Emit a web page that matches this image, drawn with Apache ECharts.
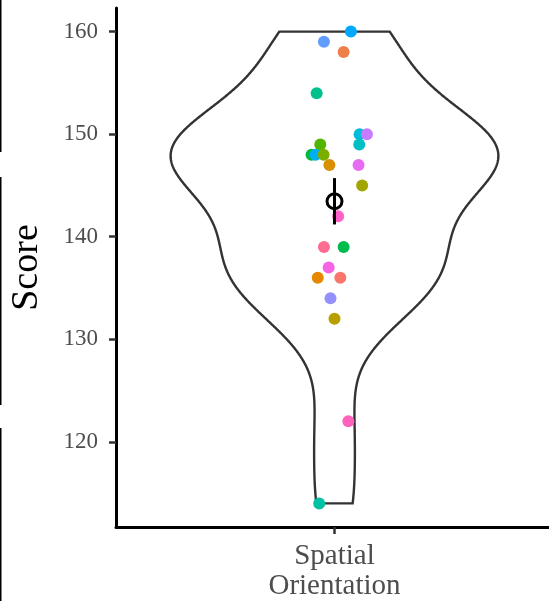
<!DOCTYPE html>
<html>
<head>
<meta charset="utf-8">
<script src="https://cdn.jsdelivr.net/npm/echarts@6/dist/echarts.min.js"></script>
<style>
  html, body { margin: 0; padding: 0; background: #fff; }
  #main { width: 549px; height: 601px; }
</style>
</head>
<body>
<div id="main"></div>
<script>
// scores, one per participant
const scores = [160, 159, 158, 154, 150, 150, 149, 149, 148, 148, 148, 147, 147, 145,
                142, 139, 139, 137, 136, 136, 134, 132, 122, 114];
// horizontal jitter of each point (category units)
const jitter = [0.045, -0.029, 0.025, -0.049, 0.069, 0.089, 0.068, -0.039, -0.063, -0.052, -0.030, -0.014, 0.066, 0.076,
                0.010, -0.029, 0.025, -0.016, -0.046, 0.016, -0.011, 0.000, 0.038, -0.042];
const pointColors = ['#00A9FF', '#619CFF', '#EF7F49', '#00C08B', '#00BCD8', '#C77CFF', '#00BFC4', '#53B400',
                     '#00BA38', '#00B0F6', '#7CAE00', '#D89000', '#E76BF3', '#A3A500', '#FF61C9', '#FF6C91',
                     '#00BB4E', '#F564E3', '#E58700', '#F8766D', '#9590FF', '#B79F00', '#FF62BC', '#00C1A3'];
const category = 'Spatial\nOrientation';
const yTicks = [120, 130, 140, 150, 160];

// summary stats (mean +/- se)
const n = scores.length;
const mean = scores.reduce((a, b) => a + b, 0) / n;
const sd = Math.sqrt(scores.reduce((a, b) => a + (b - mean) * (b - mean), 0) / (n - 1));
const se = sd / Math.sqrt(n);

// gaussian kde like geom_violin (bw.nrd0, trimmed)
const sorted = scores.slice().sort((a, b) => a - b);
const quant = p => {
    const h = (n - 1) * p, lo = Math.floor(h);
    return sorted[lo] + (h - lo) * ((sorted[lo + 1] ?? sorted[lo]) - sorted[lo]);
};
const bw = 0.9 * Math.min(sd, (quant(0.75) - quant(0.25)) / 1.34) * Math.pow(n, -0.2);
const lo = sorted[0], hi = sorted[n - 1];
const dens = [];
for (let i = 0; i < 512; i++) {
    const y = lo + (hi - lo) * i / 511;
    let d = 0;
    scores.forEach(s => { const z = (y - s) / bw; d += Math.exp(-0.5 * z * z); });
    dens.push([y, d]);
}
const maxD = Math.max(...dens.map(d => d[1]));

var myChart = echarts.init(document.getElementById('main'));

const serif = 'Liberation Serif';

const option = {
    animation: false,
    backgroundColor: '#fff',
    grid: { left: 116, right: -4, top: 8, bottom: 74, outerBoundsMode: 'none' },
    xAxis: {
        type: 'value',
        min: 0.4,
        max: 1.6,
        splitLine: { show: false },
        axisLine: { lineStyle: { color: '#000', width: 3 } },
        axisTick: { customValues: [1], length: 7, lineStyle: { color: '#333', width: 2.5 } },
        axisLabel: {
            customValues: [1],
            formatter: () => category,
            color: '#4D4D4D',
            fontFamily: serif,
            fontSize: 29,
            lineHeight: 30,
            margin: 14
        }
    },
    yAxis: {
        type: 'value',
        min: 111.7,
        max: 162.3,
        name: 'Score',
        nameLocation: 'middle',
        nameGap: 70,
        nameTextStyle: { color: '#000', fontFamily: serif, fontSize: 38 },
        splitLine: { show: false },
        axisLine: { show: true, lineStyle: { color: '#000', width: 3 } },
        axisTick: { customValues: yTicks, length: 7, lineStyle: { color: '#333', width: 2.5 } },
        axisLabel: {
            customValues: yTicks,
            color: '#4D4D4D',
            fontFamily: serif,
            fontSize: 23,
            margin: 18
        }
    },
    graphic: [
        { type: 'line', shape: { x1: 0.5, y1: 0, x2: 0.5, y2: 152 }, style: { stroke: '#000', lineWidth: 2 } },
        { type: 'line', shape: { x1: 0.5, y1: 177, x2: 0.5, y2: 405 }, style: { stroke: '#000', lineWidth: 2 } },
        { type: 'line', shape: { x1: 0.5, y1: 428, x2: 0.5, y2: 601 }, style: { stroke: '#000', lineWidth: 2 } }
    ],
    series: [
        {
            name: 'violin',
            type: 'custom',
            data: [[1]],
            silent: true,
            renderItem: (params, api) => {
                const left = dens.map(d => api.coord([1 - 0.45 * d[1] / maxD, d[0]]));
                const right = dens.map(d => api.coord([1 + 0.45 * d[1] / maxD, d[0]])).reverse();
                return {
                    type: 'polygon',
                    shape: { points: left.concat(right) },
                    style: { fill: 'none', stroke: '#333', lineWidth: 2.4 }
                };
            }
        },
        {
            name: 'points',
            type: 'scatter',
            symbolSize: 12,
            data: scores.map((s, i) => [1 + jitter[i], s]),
            itemStyle: { opacity: 1, color: p => pointColors[p.dataIndex] }
        },
        {
            name: 'mean',
            type: 'custom',
            data: [[1, mean]],
            z: 5,
            renderItem: (params, api) => {
                const top = api.coord([1, mean + se]);
                const bot = api.coord([1, mean - se]);
                const c = api.coord([1, mean]);
                return {
                    type: 'group',
                    children: [
                        { type: 'line', shape: { x1: top[0], y1: top[1], x2: bot[0], y2: bot[1] },
                          style: { stroke: '#000', lineWidth: 3 } },
                        { type: 'circle', shape: { cx: c[0], cy: c[1], r: 7.5 },
                          style: { fill: 'none', stroke: '#000', lineWidth: 3 } }
                    ]
                };
            }
        }
    ]
};

myChart.setOption(option);
</script>
</body>
</html>
